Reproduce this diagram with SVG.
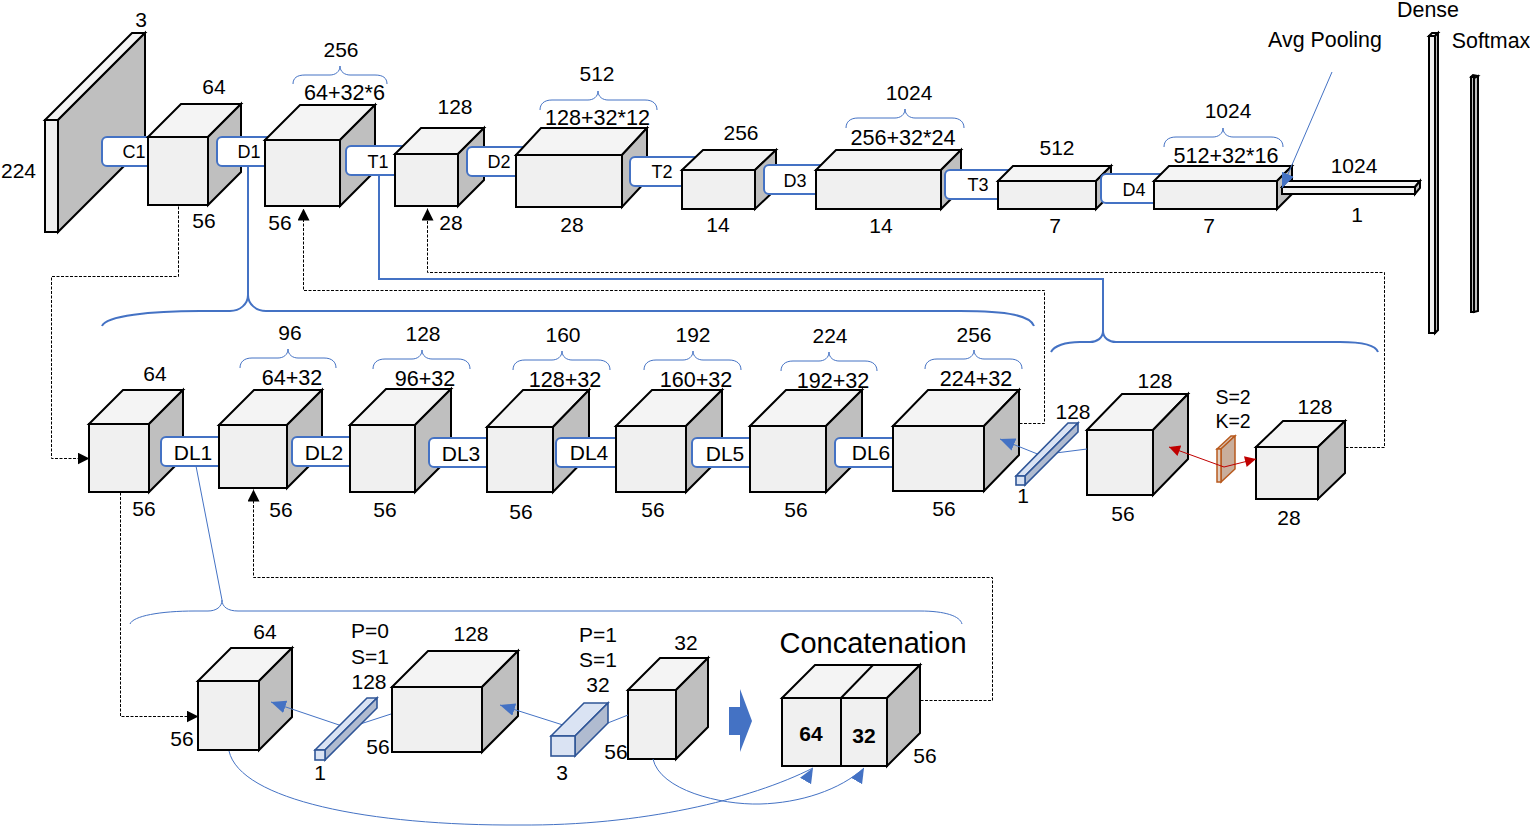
<svg xmlns="http://www.w3.org/2000/svg" width="1530" height="826" viewBox="0 0 1530 826">
<style>
text{font-family:"Liberation Sans",Arial,sans-serif;font-size:21px;fill:#000;text-anchor:middle}
.sm{font-size:18px}.b{font-weight:bold}.big{font-size:29px}.s19{font-size:19.5px}.s21{font-size:21.4px}.fm{font-size:21.6px}
.f,.t,.s{stroke:#000;stroke-width:2;stroke-linejoin:miter}
.f{fill:#f0f0f0}.t{fill:#f4f4f4}.s{fill:#bfbfbf}
.cf,.ct,.cs{stroke:#2f5597;stroke-width:1.6}
.cf,.ct{fill:#dae3f3}.cs{fill:#b0bbd0}
.lb{fill:#fff;stroke:#4472c4;stroke-width:2}
.br{fill:none;stroke:#4472c4;stroke-width:1}
.br2{fill:none;stroke:#4472c4;stroke-width:2}
.ln{fill:none;stroke:#4472c4;stroke-width:1}
.ln2{fill:none;stroke:#4472c4;stroke-width:2}
.ds{fill:none;stroke:#000;stroke-width:1;stroke-dasharray:3 1.5}
.rd{fill:none;stroke:#c00000;stroke-width:1}
</style>
<defs>
<marker id="ab" viewBox="0 0 12 12" refX="12" refY="6" markerWidth="12" markerHeight="12" markerUnits="userSpaceOnUse" orient="auto"><path d="M0,0L12,6L0,12Z" fill="#000"/></marker>
<marker id="ad" viewBox="0 0 14 12" refX="14" refY="6" markerWidth="15" markerHeight="13" markerUnits="userSpaceOnUse" orient="auto"><path d="M0,0L14,6L0,12Z" fill="#4472c4"/></marker>
<marker id="au" viewBox="0 0 14 12" refX="14" refY="6" markerWidth="15" markerHeight="13" markerUnits="userSpaceOnUse" orient="-60"><path d="M0,0L14,6L0,12Z" fill="#4472c4"/></marker>
<marker id="ar" viewBox="0 0 12 12" refX="12" refY="6" markerWidth="12" markerHeight="11" markerUnits="userSpaceOnUse" orient="auto"><path d="M0,0L12,6L0,12Z" fill="#c00000"/></marker>
</defs>

<g id="input"><polygon class="t" points="45,120 132,33 145,33 58,120"/><polygon class="s" points="58,120 145,33 145,145 58,232"/><rect class="f" x="45" y="120" width="13" height="112"/><text x="141" y="27">3</text><text x="18.5" y="178">224</text></g>
<g id="C1"><rect class="lb" x="102" y="137" width="50" height="29" rx="5"/><text class="sm" x="134" y="158">C1</text></g>
<g id="cube-c1"><polygon class="t" points="148,137 181,104 241,104 208,137"/><polygon class="s" points="208,137 241,104 241,172 208,205"/><rect class="f" x="148" y="137" width="60" height="68"/><text x="214" y="94">64</text><text x="204" y="228">56</text></g>
<g id="D1"><rect class="lb" x="217" y="137" width="73" height="29" rx="5"/><text class="sm" x="249" y="158">D1</text></g>
<g id="cube-d1"><polygon class="t" points="265,140 300,105 375,105 340,140"/><polygon class="s" points="340,140 375,105 375,171 340,206"/><rect class="f" x="265" y="140" width="75" height="66"/><text x="341" y="57">256</text><text class="fm" x="344.5" y="100">64+32*6</text><text x="280" y="230">56</text></g>
<g id="T1"><rect class="lb" x="346" y="146" width="74" height="29" rx="5"/><text class="sm" x="378" y="168">T1</text></g>
<g id="cube-t1"><polygon class="t" points="395,154 421,128 484,128 458,154"/><polygon class="s" points="458,154 484,128 484,180 458,206"/><rect class="f" x="395" y="154" width="63" height="52"/><text x="455" y="114">128</text><text x="451" y="230">28</text></g>
<g id="D2"><rect class="lb" x="467" y="147" width="73" height="29" rx="5"/><text class="sm" x="499" y="168">D2</text></g>
<g id="cube-d2"><polygon class="t" points="516,155 541,128 647,128 622,155"/><polygon class="s" points="622,155 647,128 647,180 622,207"/><rect class="f" x="516" y="155" width="106" height="52"/><text x="597" y="81">512</text><text class="fm" x="597.5" y="125">128+32*12</text><text x="572" y="232">28</text></g>
<g id="T2"><rect class="lb" x="630" y="157" width="90" height="29" rx="5"/><text class="sm" x="662" y="178">T2</text></g>
<g id="cube-t2"><polygon class="t" points="682,170 703,150 776,150 755,170"/><polygon class="s" points="755,170 776,150 776,189 755,209"/><rect class="f" x="682" y="170" width="73" height="39"/><text x="741" y="140">256</text><text x="718" y="232">14</text></g>
<g id="D3"><rect class="lb" x="764" y="165" width="86" height="29" rx="5"/><text class="sm" x="795" y="187">D3</text></g>
<g id="cube-d3"><polygon class="t" points="816,170 836,150 961,150 941,170"/><polygon class="s" points="941,170 961,150 961,189 941,209"/><rect class="f" x="816" y="170" width="125" height="39"/><text x="909" y="100">1024</text><text class="fm" x="903" y="145">256+32*24</text><text x="881" y="233">14</text></g>
<g id="T3"><rect class="lb" x="945" y="170" width="95" height="29" rx="5"/><text class="sm" x="978" y="191">T3</text></g>
<g id="cube-t3"><polygon class="t" points="998,181 1013,166 1111,166 1096,181"/><polygon class="s" points="1096,181 1111,166 1111,194 1096,209"/><rect class="f" x="998" y="181" width="98" height="28"/><text x="1057" y="155">512</text><text x="1055" y="233">7</text></g>
<g id="D4"><rect class="lb" x="1101" y="174" width="89" height="29" rx="5"/><text class="sm" x="1134" y="196">D4</text></g>
<g id="cube-d4"><polygon class="t" points="1154,181 1169,166 1292,166 1277,181"/><polygon class="s" points="1277,181 1292,166 1292,194 1277,209"/><rect class="f" x="1154" y="181" width="123" height="28"/><text x="1228" y="118">1024</text><text class="fm" x="1226" y="163">512+32*16</text><text x="1209" y="233">7</text></g>
<g id="avg-pooling"><polygon class="t" points="1282,187 1287,181 1420,181 1415,187"/><polygon class="s" points="1415,187 1420,181 1420,188 1415,194"/><rect class="f" x="1282" y="187" width="133" height="7"/><text x="1354" y="173">1024</text><text x="1357" y="222">1</text><text class="s21" x="1325" y="47">Avg Pooling</text></g>
<g id="dense"><polygon class="t" points="1429,36 1432,33 1438,33 1435,36"/><polygon class="s" points="1435,36 1438,33 1438,330 1435,333"/><rect class="f" x="1429" y="36" width="6" height="297"/><text class="s21" x="1428" y="17">Dense</text></g>
<g id="softmax"><polygon class="t" points="1471,77 1473,75 1478,76 1475,78"/><polygon class="s" points="1474,78 1478,76 1478,311 1474,312"/><rect class="s" x="1471" y="77" width="3" height="235"/><text class="s21" x="1491" y="48">Softmax</text></g>

<g id="cube-r2-1"><polygon class="t" points="89,424 123,390 183,390 149,424"/><polygon class="s" points="149,424 183,390 183,458 149,492"/><rect class="f" x="89" y="424" width="60" height="68"/><text x="155" y="381">64</text><text x="144" y="516">56</text></g>
<g id="DL1"><rect class="lb" x="161" y="437" width="62" height="29" rx="5"/><text x="193" y="460">DL1</text></g>
<g id="cube-r2-2"><polygon class="t" points="219,425 254,390 322,390 287,425"/><polygon class="s" points="287,425 322,390 322,453 287,488"/><rect class="f" x="219" y="425" width="68" height="63"/><text x="290" y="340">96</text><text class="fm" x="292" y="385">64+32</text><text x="281" y="517">56</text></g>
<g id="DL2"><rect class="lb" x="292" y="437" width="62" height="29" rx="5"/><text x="324" y="460">DL2</text></g>
<g id="cube-r2-3"><polygon class="t" points="350,425 386,389 451,389 415,425"/><polygon class="s" points="415,425 451,389 451,456 415,492"/><rect class="f" x="350" y="425" width="65" height="67"/><text x="423" y="341">128</text><text class="fm" x="425" y="386">96+32</text><text x="385" y="517">56</text></g>
<g id="DL3"><rect class="lb" x="429" y="438" width="62" height="29" rx="5"/><text x="461" y="461">DL3</text></g>
<g id="cube-r2-4"><polygon class="t" points="487,427 523,390 589,390 553,427"/><polygon class="s" points="553,427 589,390 589,455 553,492"/><rect class="f" x="487" y="427" width="66" height="65"/><text x="563" y="342">160</text><text class="fm" x="565" y="387">128+32</text><text x="521" y="519">56</text></g>
<g id="DL4"><rect class="lb" x="556" y="438" width="64" height="29" rx="5"/><text x="589" y="460">DL4</text></g>
<g id="cube-r2-5"><polygon class="t" points="616,426 652,390 722,390 686,426"/><polygon class="s" points="686,426 722,390 722,456 686,492"/><rect class="f" x="616" y="426" width="70" height="66"/><text x="693" y="342">192</text><text class="fm" x="696" y="387">160+32</text><text x="653" y="517">56</text></g>
<g id="DL5"><rect class="lb" x="692" y="438" width="62" height="29" rx="5"/><text x="725" y="461">DL5</text></g>
<g id="cube-r2-6"><polygon class="t" points="750,426 786,390 862,390 826,426"/><polygon class="s" points="826,426 862,390 862,456 826,492"/><rect class="f" x="750" y="426" width="76" height="66"/><text x="830" y="343">224</text><text class="fm" x="833" y="388">192+32</text><text x="796" y="517">56</text></g>
<g id="DL6"><rect class="lb" x="835" y="438" width="62" height="29" rx="5"/><text x="871" y="460">DL6</text></g>
<g id="cube-r2-7"><polygon class="t" points="893,426 928,390 1019,390 984,426"/><polygon class="s" points="984,426 1019,390 1019,455 984,491"/><rect class="f" x="893" y="426" width="91" height="65"/><text x="974" y="342">256</text><text class="fm" x="976" y="386">224+32</text><text x="944" y="516">56</text></g>
<g id="cube-transition-a"><polygon class="t" points="1087,430 1122,394 1188,394 1153,430"/><polygon class="s" points="1153,430 1188,394 1188,459 1153,495"/><rect class="f" x="1087" y="430" width="66" height="65"/><text x="1155" y="388">128</text><text x="1123" y="521">56</text></g>
<g id="pool"><polygon points="1217,449 1231,436 1235,436 1221,449" fill="#d9c3b3" stroke="#b85a1e" stroke-width="1.5"/><polygon points="1221,449 1235,436 1235,469 1221,482" fill="#c9ae9c" stroke="#b85a1e" stroke-width="1.5"/><rect x="1217" y="449" width="4" height="33" fill="#e0cdbf" stroke="#b85a1e" stroke-width="1.5"/><text class="s19" x="1233" y="404">S=2</text><text class="s19" x="1233" y="428">K=2</text></g>
<g id="cube-transition-b"><polygon class="t" points="1256,447 1283,421 1345,421 1318,447"/><polygon class="s" points="1318,447 1345,421 1345,473 1318,499"/><rect class="f" x="1256" y="447" width="62" height="52"/><text x="1315" y="414">128</text><text x="1289" y="525">28</text></g>

<g id="cube-r3-64"><polygon class="t" points="198,681 231,648 292,648 259,681"/><polygon class="s" points="259,681 292,648 292,717 259,750"/><rect class="f" x="198" y="681" width="61" height="69"/><text x="265" y="639">64</text><text x="182" y="746">56</text></g>
<g id="cube-r3-128"><polygon class="t" points="392,687 428,651 518,651 482,687"/><polygon class="s" points="482,687 518,651 518,716 482,752"/><rect class="f" x="392" y="687" width="90" height="65"/><text x="471" y="641">128</text><text x="378" y="754">56</text></g>
<g id="cube-r3-32"><polygon class="t" points="628,690 660,658 708,658 676,690"/><polygon class="s" points="676,690 708,658 708,727 676,759"/><rect class="f" x="628" y="690" width="48" height="69"/><text x="686" y="650">32</text><text x="616" y="759">56</text></g>
<g id="merge-arrow"><polygon points="729,707 740,707 740,689 752,721 740,752 740,735 729,735" fill="#4472c4"/></g>
<g id="concatenation"><polygon class="t" points="782,698 815,665 920,665 887,698"/><line class="t" x1="841" y1="698" x2="873" y2="665"/><polygon class="s" points="887,698 920,665 920,733 887,766"/><rect class="f" x="782" y="698" width="59" height="68"/><rect class="f" x="841" y="698" width="46" height="68"/><text class="b" x="811" y="741">64</text><text class="b" x="864" y="743">32</text><text x="925" y="763">56</text><text class="big" x="873" y="653">Concatenation</text></g>

<g id="braces">
<path class="br" d="M293,84C293,78 297,75 305,75L330,75C335,75 340,72 340,66C340,72 345,75 350,75L375,75C383,75 387,78 387,84"/>
<path class="br" d="M540,110C540,104 544,100 552,100L588,100C593,100 598,97 598,91C598,97 603,100 608,100L645,100C653,100 657,104 657,110"/>
<path class="br" d="M846,128C846,122 850,118 858,118L895,118C900,118 905,115 905,109C905,115 910,118 915,118L952,118C960,118 964,122 964,128"/>
<path class="br" d="M1164,147C1164,141 1168,137 1176,137L1213,137C1218,137 1223,134 1223,128C1223,134 1228,137 1233,137L1271,137C1279,137 1283,141 1283,147"/>
<path class="br" d="M240,368C240,362 244,358 252,358L278,358C283,358 288,355 288,349C288,355 293,358 298,358L324,358C332,358 336,362 336,368"/>
<path class="br" d="M373,369C373,363 377,359 385,359L412,359C417,359 422,356 422,350C422,356 427,359 432,359L458,359C466,359 470,363 470,369"/>
<path class="br" d="M513,370C513,364 517,360 525,360L552,360C557,360 562,357 562,351C562,357 567,360 572,360L598,360C606,360 610,364 610,370"/>
<path class="br" d="M644,370C644,364 648,360 656,360L683,360C688,360 693,357 693,351C693,357 698,360 703,360L729,360C737,360 741,364 741,370"/>
<path class="br" d="M781,371C781,365 785,361 793,361L819,361C824,361 829,358 829,352C829,358 834,361 839,361L865,361C873,361 877,365 877,371"/>
<path class="br" d="M925,369C925,363 929,359 937,359L964,359C969,359 974,356 974,350C974,356 979,359 984,359L1010,359C1018,359 1022,363 1022,369"/>
<path class="br2" d="M102,326C106,316 150,311 200,311L230,311C240,311 248,304 248,295C248,304 256,311 266,311L960,311C1010,311 1030,316 1034,326"/>
<path class="br2" d="M1051,352C1054,346 1065,342 1080,342L1090,342C1097,342 1103,338 1103,331C1103,338 1109,342 1116,342L1340,342C1365,342 1376,346 1378,352"/>
<path class="br" d="M130,624C133,616 160,611 195,611L208,611C216,611 222,607 222,600C222,607 228,611 238,611L920,611C945,611 960,616 962,624"/>
</g>

<g id="connectors">
<g transform="translate(.5 .5)">
<path class="ds" marker-end="url(#ab)" d="M178,206V276H51V458H89"/>
<path class="ds" marker-end="url(#ab)" d="M1019,423H1044V290H303V208"/>
<path class="ds" marker-end="url(#ab)" d="M1345,447H1384V272H427V208"/>
<path class="ds" marker-end="url(#ab)" d="M120,492V716H198"/>
<path class="ds" marker-end="url(#ab)" d="M920,700H992V577H253V489"/>
</g>
<path class="ln2" d="M248,166V295"/>
<path class="ln2" d="M379,175V279H1103V331"/>
<path class="ln" d="M196,466L222,600"/>
<path class="ln" marker-end="url(#ad)" d="M1332,72L1282,188"/>
<path class="ln" marker-end="url(#ad)" d="M1087,449L1040,455L1000,439"/>
<path class="ln" marker-end="url(#ad)" d="M391,714L348,728L271,702"/>
<path class="ln" marker-end="url(#ad)" d="M628,715L585,732L500,705"/>
<path class="ln" marker-end="url(#au)" d="M229,751C240,800 370,826 520,825C640,826 750,800 813,768"/>
<path class="ln" marker-end="url(#au)" d="M653,759C660,790 720,805 760,804C800,803 840,790 864,768"/>
<path class="rd" marker-end="url(#ar)" d="M1224,467L1169,447"/>
<path class="rd" marker-end="url(#ar)" d="M1224,467L1256,459"/>
</g>

<g id="conv-128"><polygon class="ct" points="1016,476 1068,423 1078,423 1025,476"/><polygon class="cs" points="1025,476 1078,423 1078,432 1025,485"/><rect class="cf" x="1016" y="476" width="9" height="9"/><text x="1073" y="419">128</text><text x="1023" y="503">1</text></g>
<g id="conv-1x1"><polygon class="ct" points="315,750 367,698 377,698 325,750"/><polygon class="cs" points="325,750 377,698 377,708 325,760"/><rect class="cf" x="315" y="750" width="10" height="10"/><text x="370" y="638">P=0</text><text x="370" y="664">S=1</text><text x="369" y="689">128</text><text x="320" y="780">1</text></g>
<g id="conv-3x3"><polygon class="ct" points="551,736 584,703 608,703 575,736"/><polygon class="cs" points="575,736 608,703 608,723 575,756"/><rect class="cf" x="551" y="736" width="24" height="20"/><text x="598" y="642">P=1</text><text x="598" y="667">S=1</text><text x="598" y="692">32</text><text x="562" y="780">3</text></g>
</svg>
